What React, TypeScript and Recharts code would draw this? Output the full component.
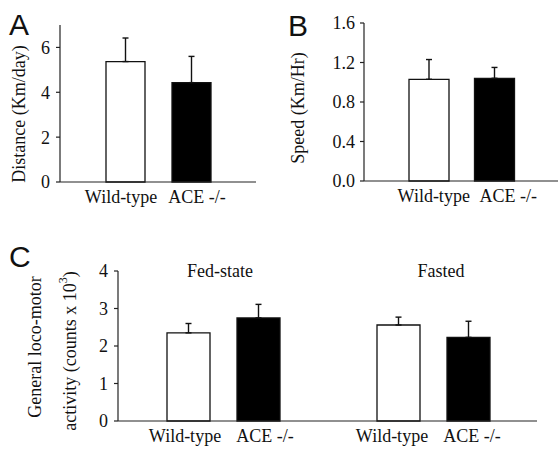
import { BarChart, Bar, XAxis, YAxis, ErrorBar, Cell, Label } from "recharts";

const groups = ["Wild-type", "ACE -/-"];
const distanceMean = [5.37, 4.43];
const distanceErr = [1.05, 1.17];
const speedMean = [1.03, 1.04];
const speedErr = [0.2, 0.11];
const fedMean = [2.35, 2.75];
const fedErr = [0.25, 0.36];
const fastedMean = [2.56, 2.23];
const fastedErr = [0.21, 0.43];

const distanceTicks = [0, 2, 4, 6];
const speedTicks = [0, 0.4, 0.8, 1.2, 1.6];
const activityTicks = [0, 1, 2, 3, 4];

const fills = ["#ffffff", "#000000"];

const rows = (mean: number[], err: number[]) =>
  groups.map((name, i) => ({ name, value: mean[i], err: [0, err[i]] }));

const serif = "'Liberation Serif', 'Times New Roman', serif";
const sans = "'Liberation Sans', Arial, sans-serif";
const FS = 18;
const tick = { fontSize: FS, fill: "#111", fontFamily: serif };
const axisLine = { stroke: "#222", strokeWidth: 1.2 };

// nudges the category labels a little, like in the original figure
function groupTick(shift: number[]) {
  return (p: any) => (
    <text
      x={p.x + shift[p.index]}
      y={p.y}
      dy="0.71em"
      textAnchor="middle"
      fontSize={FS}
      fontFamily={serif}
      fill="#111"
    >
      {p.payload.value}
    </text>
  );
}

function Bars() {
  return (
    <Bar dataKey="value" stroke="#111" strokeWidth={1.3} isAnimationActive={false}>
      {groups.map((g, i) => (
        <Cell key={g} fill={fills[i]} />
      ))}
      <ErrorBar dataKey="err" width={3} stroke="#111" strokeWidth={1.4} direction="y" />
    </Bar>
  );
}

function rotated(x: number, y: number, text: string) {
  return () => (
    <text
      x={x}
      y={y}
      transform={`rotate(-90 ${x} ${y})`}
      textAnchor="middle"
      dominantBaseline="central"
      fontSize={FS}
      fontFamily={serif}
      fill="#111"
    >
      {text}
    </text>
  );
}

function Letter({ ch, left, top }: { ch: string; left: number; top: number }) {
  return (
    <div style={{ position: "absolute", left, top, fontFamily: sans, fontSize: 30, lineHeight: "30px", color: "#111" }}>
      {ch}
    </div>
  );
}

function Title({ text, center, top }: { text: string; center: number; top: number }) {
  return (
    <div
      style={{
        position: "absolute",
        left: center - 60,
        width: 120,
        top,
        textAlign: "center",
        fontFamily: serif,
        fontSize: FS,
        lineHeight: `${FS}px`,
        color: "#111",
      }}
    >
      {text}
    </div>
  );
}

export default function App() {
  return (
    <div style={{ position: "absolute", left: 0, top: 0, width: 558, height: 450, background: "#fff" }}>
      <div style={{ position: "absolute", left: 0, top: 0 }}>
        <BarChart width={270} height={215} data={rows(distanceMean, distanceErr)} margin={{ top: 25, right: 14, bottom: 0, left: 0 }} barSize={39}>
          <XAxis dataKey="name" height={33} padding={{ left: 32, right: 32 }} tickLine={false} axisLine={axisLine} tick={groupTick([-4, 6])} interval={0} />
          <YAxis width={60} domain={[0, 7]} ticks={distanceTicks} tickSize={4} tickMargin={6} axisLine={axisLine} tickLine={axisLine} tick={tick}>
            <Label content={rotated(19, 114, "Distance (Km/day)")} />
          </YAxis>
          {Bars()}
        </BarChart>
      </div>

      <div style={{ position: "absolute", left: 279, top: 0 }}>
        <BarChart width={279} height={215} data={rows(speedMean, speedErr)} margin={{ top: 23, right: 0, bottom: 0, left: 0 }} barSize={40}>
          <XAxis dataKey="name" height={34} padding={{ left: 32, right: 31 }} tickLine={false} axisLine={axisLine} tick={groupTick([5, 14])} interval={0} />
          <YAxis
            width={85}
            domain={[0, 1.6]}
            ticks={speedTicks}
            tickFormatter={(v: number) => v.toFixed(1)}
            tickSize={4}
            tickMargin={5}
            axisLine={axisLine}
            tickLine={axisLine}
            tick={tick}
          >
            <Label content={rotated(19, 108, "Speed (Km/Hr)")} />
          </YAxis>
          {Bars()}
        </BarChart>
      </div>

      <div style={{ position: "absolute", left: 0, top: 220 }}>
        <BarChart width={328} height={230} data={rows(fedMean, fedErr)} margin={{ top: 51, right: 0, bottom: 0, left: 0 }} barSize={43}>
          <XAxis dataKey="name" height={29} padding={{ left: 35, right: 35 }} tickLine={false} axisLine={axisLine} tick={groupTick([-3, 7])} interval={0} />
          <YAxis width={118} domain={[0, 4]} ticks={activityTicks} tickSize={4} tickMargin={6} axisLine={axisLine} tickLine={axisLine} tick={tick}>
            <Label
              content={() => (
                <g fontSize={FS} fontFamily={serif} fill="#111">
                  <text x={35} y={127} transform="rotate(-90 35 127)" textAnchor="middle" dominantBaseline="central">
                    General loco-motor
                  </text>
                  <text x={70} y={131} transform="rotate(-90 70 131)" textAnchor="middle" dominantBaseline="central">
                    activity (counts x 10
                    <tspan dy={-7} fontSize={12}>3</tspan>
                    <tspan dy={7}>)</tspan>
                  </text>
                </g>
              )}
            />
          </YAxis>
          {Bars()}
        </BarChart>
      </div>

      <div style={{ position: "absolute", left: 328, top: 220 }}>
        <BarChart width={230} height={230} data={rows(fastedMean, fastedErr)} margin={{ top: 51, right: 21, bottom: 0, left: 0 }} barSize={43}>
          <XAxis dataKey="name" height={29} padding={{ left: 35, right: 34 }} tickLine={false} axisLine={axisLine} tick={groupTick([-6, 4])} interval={0} />
          <YAxis hide domain={[0, 4]} ticks={activityTicks} />
          {Bars()}
        </BarChart>
      </div>

      <Letter ch="A" left={9} top={10} />
      <Letter ch="B" left={288} top={11} />
      <Letter ch="C" left={9} top={242} />
      <Title text="Fed-state" center={220} top={262} />
      <Title text="Fasted" center={441} top={262} />
    </div>
  );
}
